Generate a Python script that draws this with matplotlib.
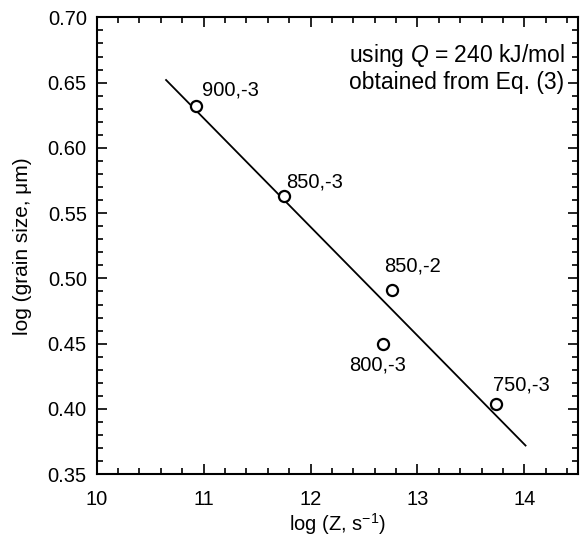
import matplotlib.pyplot as plt
from matplotlib.ticker import MultipleLocator

plt.rcParams['font.family'] = ['Liberation Sans', 'DejaVu Sans']
plt.rcParams['mathtext.fontset'] = 'custom'
plt.rcParams['mathtext.rm'] = 'Liberation Sans'
plt.rcParams['mathtext.it'] = 'Liberation Sans:italic'

# data
log_z = [10.93, 11.75, 12.76, 12.68, 13.73]
log_d = [0.632, 0.563, 0.491, 0.450, 0.404]
labels = ['900,-3', '850,-3', '850,-2', '800,-3', '750,-3']
# label offsets in pixels (dx, dy)
offsets = [(6, 16), (2, 14), (-8, 24), (-34, -21), (-3, 19)]

fit_x = [10.65, 14.01]
fit_y = [0.652, 0.372]

fig = plt.figure(figsize=(5.85, 5.42), dpi=100)
ax = fig.add_axes([0.165, 0.125, 0.823, 0.843])

ax.plot(fit_x, fit_y, color='black', linewidth=1.3)
ax.plot(log_z, log_d, 'o', markerfacecolor='white', markeredgecolor='black',
        markersize=8, markeredgewidth=1.6, linestyle='none')

for x, y, lab, (dx, dy) in zip(log_z, log_d, labels, offsets):
    ax.annotate(lab, (x, y), xytext=(dx, dy), textcoords='offset pixels',
                ha='left', va='center', fontsize=14.5)

ax.text(0.972, 0.945, 'using $\\mathit{Q}$ = 240 kJ/mol\nobtained from Eq. (3)',
        transform=ax.transAxes, ha='right', va='top', fontsize=16.5,
        linespacing=1.1)

ax.set_xlim(10, 14.5)
ax.set_ylim(0.35, 0.70)
ax.xaxis.set_major_locator(MultipleLocator(1))
ax.xaxis.set_minor_locator(MultipleLocator(0.2))
ax.yaxis.set_major_locator(MultipleLocator(0.05))
ax.yaxis.set_minor_locator(MultipleLocator(0.01))
ax.yaxis.set_major_formatter(plt.FormatStrFormatter('%.2f'))

ax.tick_params(which='both', direction='in', top=True, right=True,
               labelsize=14.5, width=1.2)
ax.tick_params(which='major', length=7)
ax.tick_params(which='minor', length=4)
ax.tick_params(axis='x', which='major', pad=11)
ax.tick_params(axis='y', which='major', pad=7)
for s in ax.spines.values():
    s.set_linewidth(1.5)

ax.set_xlabel('log (Z, s$^{-1}$)', fontsize=14.5, labelpad=2)
ax.set_ylabel('log (grain size, \u03bcm)', fontsize=15, labelpad=11)

plt.savefig('out.png', dpi=100)
